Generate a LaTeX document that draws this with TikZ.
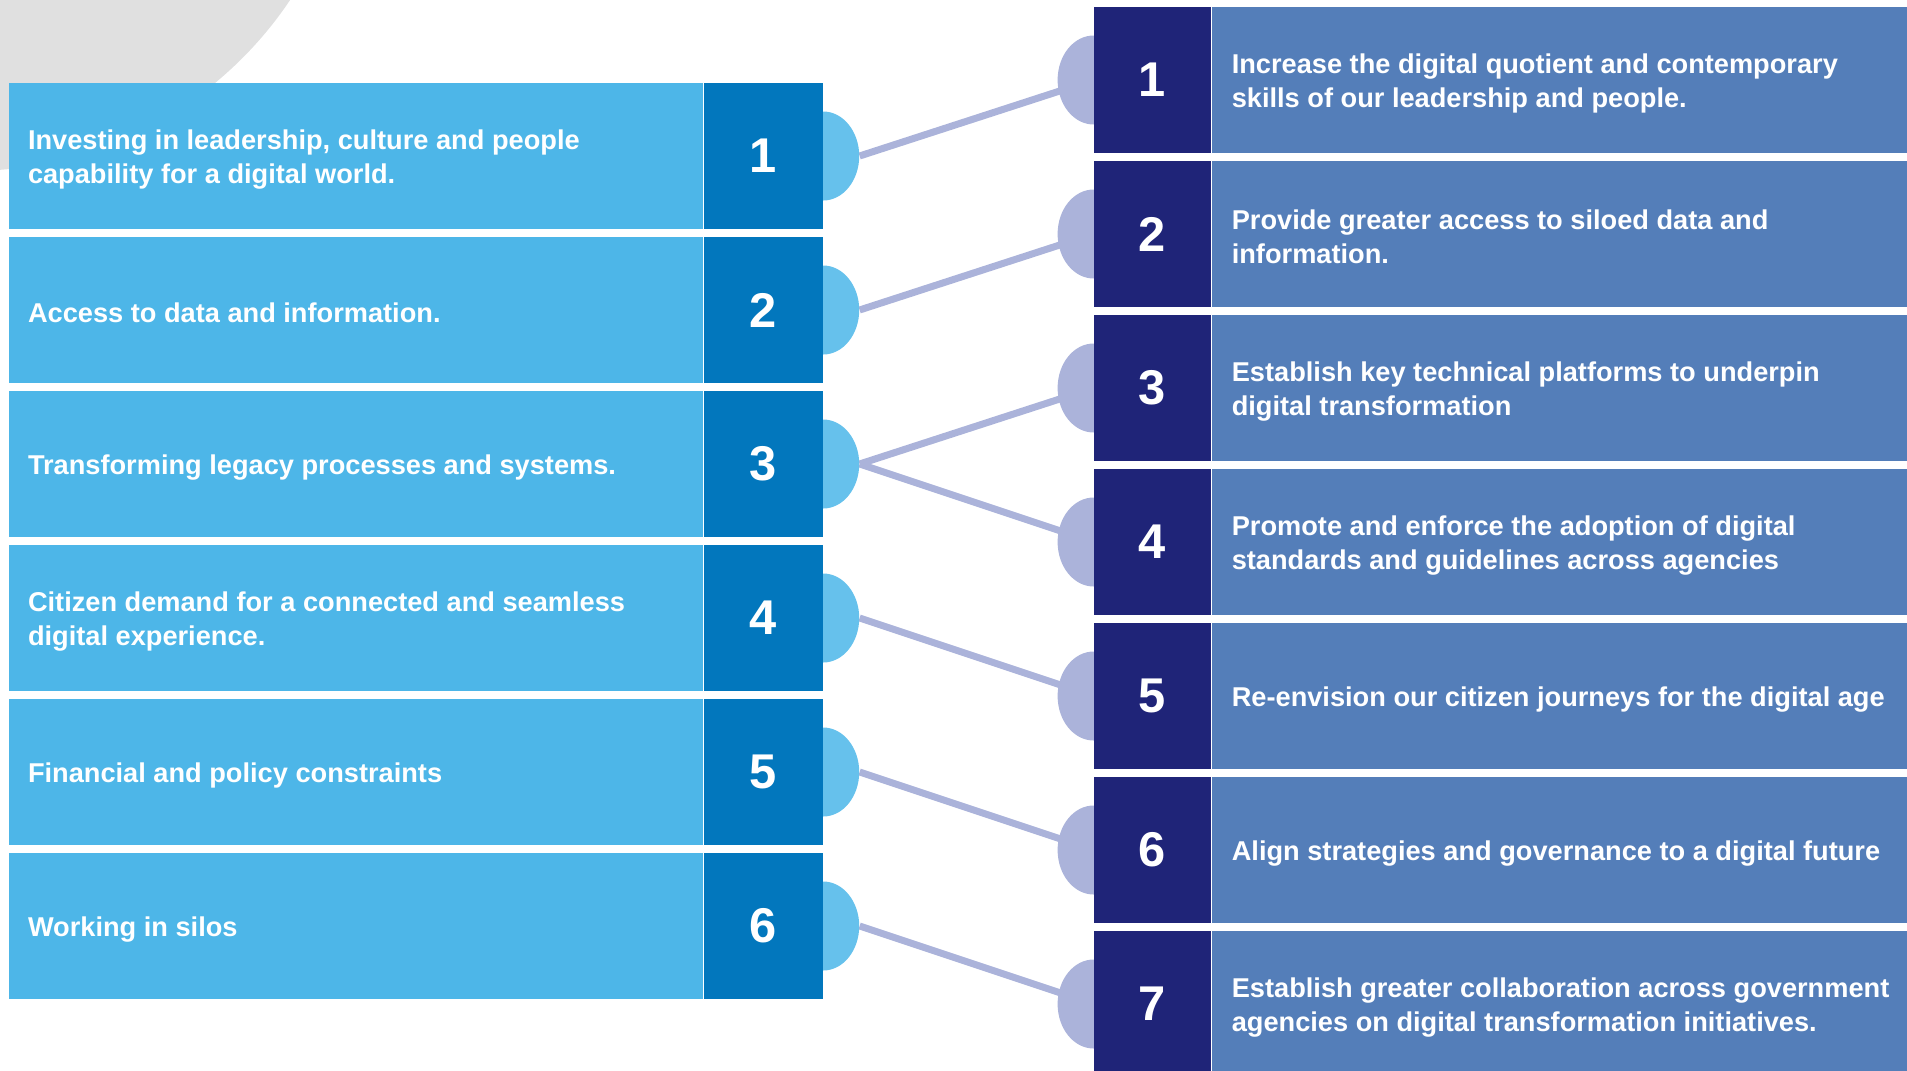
\documentclass[tikz,border=0pt]{standalone}
\usepackage{fontspec}
\setmainfont{Liberation Sans}
\usepackage{tikz}
\usetikzlibrary{positioning}
\usetikzlibrary{shapes.geometric}

\definecolor{challenge}{HTML}{4DB6E8}
\definecolor{challengenum}{HTML}{0277BD}
\definecolor{challengebump}{HTML}{66C1EC}
\definecolor{goal}{HTML}{547EB9}
\definecolor{goalnum}{HTML}{1F2478}
\definecolor{goalbump}{HTML}{ABB3DA}
\definecolor{backdrop}{HTML}{E0E0E0}

\pgfdeclarelayer{background}
\pgfdeclarelayer{links}
\pgfdeclarelayer{bumps}
\pgfsetlayers{background,links,bumps,main}

\tikzset{
    box/.style={rectangle, inner sep=0pt, minimum height=73pt},
    numtext/.style={text=white, font=\fontsize{24.4}{28}\selectfont\bfseries},
    itemtext/.style={text=white, align=left, inner sep=0pt, yshift=-1.6pt,
        font=\fontsize{13.6}{17}\selectfont\bfseries},
    bump/.style={ellipse, inner sep=0pt, minimum width=36pt, minimum height=44.5pt},
    link/.style={draw=goalbump, line width=3.5pt}}

\begin{document}
\begin{tikzpicture}[x=0.5pt, y=-0.5pt]
    \useasboundingbox (0,0) rectangle (1907,1071);
    \clip (0,0) rectangle (1907,1071);

    % Grey disc in the top left corner
    \begin{pgfonlayer}{background}
        \fill[backdrop] (-30,-214) circle[radius=192.5pt];
    \end{pgfonlayer}

    % Challenges (left column)
    \foreach \n/\txt in {
        1/{Investing in leadership, culture and people\\capability for a digital world.},
        2/{Access to data and information.},
        3/{Transforming legacy processes and systems.},
        4/{Citizen demand for a connected and seamless\\digital experience.},
        5/{Financial and policy constraints},
        6/{Working in silos}} {
            \node[box, fill=challenge, minimum width=347pt] (lbox\n) at (356, {156+154*(\n-1)}) {};
            \node[box, fill=challengenum, minimum width=59.5pt, numtext, right=0pt of lbox\n] (lnum\n) {\n};
            \node[itemtext, right=9.5pt of lbox\n.west] (ltxt\n) {\txt};
            \begin{pgfonlayer}{bumps}
                \node[bump, fill=challengebump] (lbump\n) at (lnum\n.east) {};
            \end{pgfonlayer}
        }

    % Goals (right column)
    \foreach \n/\txt in {
        1/{Increase the digital quotient and contemporary\\skills of our leadership and people.},
        2/{Provide greater access to siloed data and\\information.},
        3/{Establish key technical platforms to underpin\\digital transformation},
        4/{Promote and enforce the adoption of digital\\standards and guidelines across agencies},
        5/{Re-envision our citizen journeys for the digital age},
        6/{Align strategies and governance to a digital future},
        7/{Establish greater collaboration across government\\agencies on digital transformation initiatives.}} {
            \node[box, fill=goalnum, minimum width=58.5pt, numtext] (rnum\n) at (1152.5, {80+154*(\n-1)}) {\n};
            \node[box, fill=goal, minimum width=348pt, right=0pt of rnum\n] (rbox\n) {};
            \node[itemtext, right=10pt of rbox\n.west] (rtxt\n) {\txt};
            \begin{pgfonlayer}{bumps}
                \node[bump, fill=goalbump] (rbump\n) at (rnum\n.west) {};
            \end{pgfonlayer}
        }

    % Links from challenges to goals
    \begin{pgfonlayer}{links}
        \foreach \a/\b in {1/1, 2/2, 3/3, 3/4, 4/5, 5/6, 6/7} {
            \draw[link] (lbump\a.east) -- (rnum\b.west);
        }
    \end{pgfonlayer}

\end{tikzpicture}
\end{document}
